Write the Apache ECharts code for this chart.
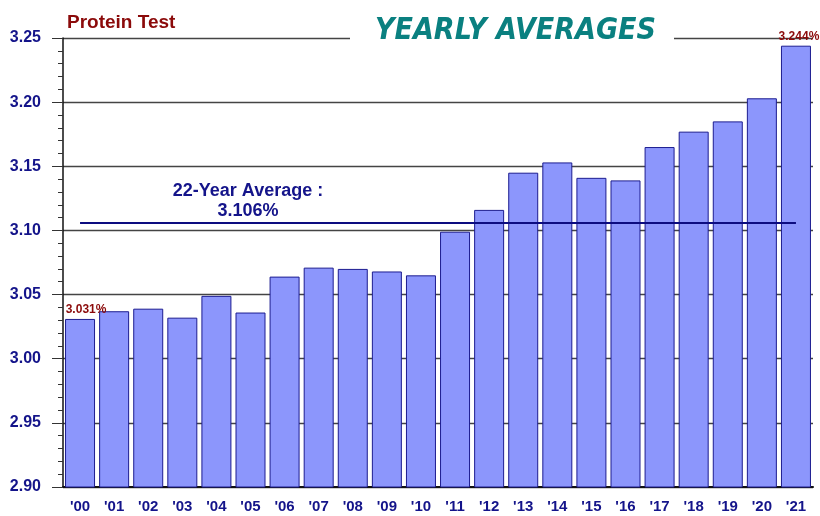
<!DOCTYPE html>
<html>
<head>
<meta charset="utf-8">
<script src="https://cdn.jsdelivr.net/npm/echarts@6/dist/echarts.min.js"></script>
<style>
  html, body { margin: 0; padding: 0; background: #fff; }
  #chart { width: 820px; height: 516px; }
</style>
</head>
<body>
<div id="chart"></div>
<script>
// 数据
var years = ["'00", "'01", "'02", "'03", "'04", "'05", "'06", "'07", "'08", "'09", "'10",
             "'11", "'12", "'13", "'14", "'15", "'16", "'17", "'18", "'19", "'20", "'21"];
var protein = [3.031, 3.037, 3.039, 3.032, 3.049, 3.036, 3.064, 3.071, 3.070, 3.068, 3.065,
               3.099, 3.116, 3.145, 3.153, 3.141, 3.139, 3.165, 3.177, 3.185, 3.203, 3.244];
var average = 3.106;
var yTicks = { min: 2.90, max: 3.25, step: 0.05 };

var navy = '#14148a';
var darkRed = '#8b0a0a';

var myChart = echarts.init(document.getElementById('chart'));

// 只给首尾两根柱子加数值标签
var barData = protein.map(function (v, i) {
    var item = { value: v };
    if (i === 0 || i === protein.length - 1) {
        item.label = {
            show: true,
            position: 'top',
            distance: 3,
            offset: i === 0 ? [6, 0] : [3, 0],
            formatter: function (p) { return p.value.toFixed(3) + '%'; },
            color: darkRed,
            fontWeight: 'bold',
            fontSize: 12,
            fontFamily: 'Liberation Sans'
        };
    }
    return item;
});

var option = {
    backgroundColor: '#fff',
    animation: false,
    title: [{
        text: 'Protein Test',
        left: 62,
        top: 8,
        textStyle: { color: darkRed, fontSize: 19, fontWeight: 'bold', fontFamily: 'Liberation Sans' }
    }, {
        text: 'YEARLY AVERAGES',
        left: 350,
        top: 14,
        padding: [2, 18, 2, 25],
        backgroundColor: '#fff',
        textStyle: { color: '#0a8080', fontSize: 30, fontWeight: 'bold', fontStyle: 'italic', fontFamily: 'DejaVu Sans Condensed' }
    }],
    graphic: [{
        type: 'text',
        style: {
            x: 248,
            y: 181,
            text: '22-Year Average :\n3.106%',
            fill: navy,
            font: 'bold 18px "Liberation Sans"',
            textAlign: 'center',
            lineHeight: 20
        }
    }],
    grid: { left: 63, right: 7, top: 38, bottom: 29 },
    xAxis: {
        type: 'category',
        data: years,
        axisLine: { lineStyle: { color: '#111', width: 2 } },
        axisTick: { alignWithLabel: true, inside: true, length: 10, lineStyle: { color: '#111' } },
        axisLabel: { color: navy, fontWeight: 'bold', fontSize: 15, fontFamily: 'Liberation Sans', margin: 12 }
    },
    yAxis: {
        type: 'value',
        min: yTicks.min,
        max: yTicks.max,
        interval: yTicks.step,
        axisLine: { show: true, lineStyle: { color: '#111', width: 1.5 } },
        axisTick: { show: true, length: 11, lineStyle: { color: '#333' } },
        minorTick: { show: true, splitNumber: 5, length: 5, lineStyle: { color: '#333' } },
        splitLine: { show: true, lineStyle: { color: '#444', width: 1.3 } },
        axisLabel: {
            color: navy, fontWeight: 'bold', fontSize: 16, fontFamily: 'Liberation Sans', margin: 22,
            formatter: function (v) { return v.toFixed(2); }
        }
    },
    series: [{
        type: 'bar',
        data: barData,
        barCategoryGap: '12%',
        itemStyle: { color: '#8c96fc', borderColor: '#1c1c90', borderWidth: 1 },
        markLine: {
            silent: true,
            symbol: 'none',
            label: { show: false },
            lineStyle: { color: '#0c0c80', width: 2, type: 'solid' },
            data: [[{ coord: [0, average] }, { coord: [years.length - 1, average] }]]
        }
    }]
};

myChart.setOption(option);

window.addEventListener('resize', function () {
    myChart.resize();
});
</script>
</body>
</html>
